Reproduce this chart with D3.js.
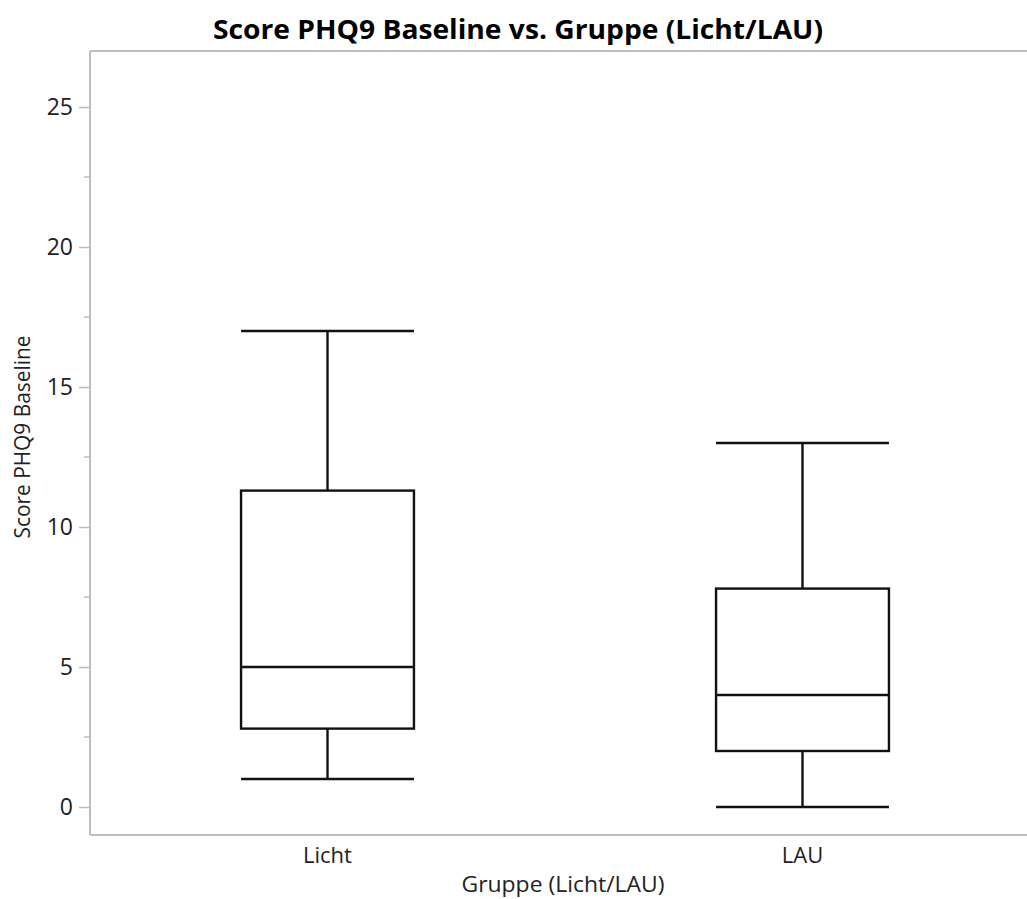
<!DOCTYPE html>
<html>
<head>
<meta charset="utf-8">
<script src="https://cdn.jsdelivr.net/npm/d3@7"></script>
<style>
  html, body { margin: 0; padding: 0; background: #fff; overflow: hidden; }
  svg { display: block; }
  text { font-family: "Open Sans", "Noto Sans", sans-serif; }
</style>
</head>
<body>
<svg id="chart" width="1027" height="899"></svg>
<script>
// Groups and five-number summaries of the PHQ9 baseline score
const groups = ["Licht", "LAU"];
const whiskerLow = [1, 0];
const quartile1 = [2.8, 2];
const medians = [5, 4];
const quartile3 = [11.3, 7.8];
const whiskerHigh = [17, 13];
const yTicks = [0, 5, 10, 15, 20, 25];
const yMinorTicks = [2.5, 7.5, 12.5, 17.5, 22.5];

const titleText = "Score PHQ9 Baseline vs. Gruppe (Licht/LAU)";
const xTitle = "Gruppe (Licht/LAU)";
const yTitle = "Score PHQ9 Baseline";

const svg = d3.select("#chart");
const m = { left: 90, top: 51, right: 1040, bottom: 835 };

const x = d3.scaleBand().domain(groups).range([m.left, m.right]).paddingInner(0).paddingOuter(0);
const y = d3.scaleLinear().domain([-1, 27]).range([m.bottom, m.top]);

const axisColor = "#bdbdbd";
const textColor = "#222";

// frame: top and bottom edges run across, left edge is the y axis
svg.append("line").attr("x1", m.left).attr("x2", 1027).attr("y1", m.top).attr("y2", m.top)
  .attr("stroke", axisColor).attr("stroke-width", 2);
svg.append("line").attr("x1", m.left).attr("x2", 1027).attr("y1", m.bottom).attr("y2", m.bottom)
  .attr("stroke", axisColor).attr("stroke-width", 2);

// y axis with major and minor ticks
const yAxis = svg.append("g").attr("transform", `translate(${m.left},0)`)
  .call(d3.axisLeft(y).tickValues(yTicks).tickSize(11).tickPadding(6).tickSizeOuter(0));
yAxis.select(".domain").attr("stroke", axisColor).attr("stroke-width", 2)
  .attr("d", `M0,${m.top}V${m.bottom}`);
yAxis.selectAll(".tick line").attr("stroke", axisColor).attr("stroke-width", 1.5);
yAxis.selectAll(".tick text").attr("fill", textColor)
  .style("font-family", "'Open Sans', sans-serif").style("font-size", "23px");

svg.append("g").selectAll("line").data(yMinorTicks).join("line")
  .attr("x1", m.left - 6).attr("x2", m.left)
  .attr("y1", d => y(d)).attr("y2", d => y(d))
  .attr("stroke", axisColor).attr("stroke-width", 1.5);

// x category labels
svg.append("g").selectAll("text").data(groups).join("text")
  .attr("x", d => x(d) + x.bandwidth() / 2)
  .attr("y", 863)
  .attr("text-anchor", "middle")
  .attr("fill", textColor)
  .style("font-size", "22px")
  .text(d => d);

// boxes
const boxW = x.bandwidth() * 0.364;
const g = svg.append("g").attr("stroke", "#111").attr("stroke-width", 2.4).attr("fill", "none");
groups.forEach((grp, i) => {
  const cx = x(grp) + x.bandwidth() / 2;
  const x0 = cx - boxW / 2, x1 = cx + boxW / 2;
  // whiskers
  g.append("line").attr("x1", cx).attr("x2", cx).attr("y1", y(whiskerHigh[i])).attr("y2", y(quartile3[i]));
  g.append("line").attr("x1", cx).attr("x2", cx).attr("y1", y(quartile1[i])).attr("y2", y(whiskerLow[i]));
  g.append("line").attr("x1", x0).attr("x2", x1).attr("y1", y(whiskerHigh[i])).attr("y2", y(whiskerHigh[i]));
  g.append("line").attr("x1", x0).attr("x2", x1).attr("y1", y(whiskerLow[i])).attr("y2", y(whiskerLow[i]));
  // box and median
  g.append("rect").attr("x", x0).attr("width", boxW)
    .attr("y", y(quartile3[i])).attr("height", y(quartile1[i]) - y(quartile3[i]));
  g.append("line").attr("x1", x0).attr("x2", x1).attr("y1", y(medians[i])).attr("y2", y(medians[i]));
});

// titles
svg.append("text").attr("x", 518).attr("y", 39).attr("text-anchor", "middle")
  .attr("fill", "#000").style("font-weight", "bold").style("font-size", "26px")
  .attr("textLength", 610).attr("lengthAdjust", "spacingAndGlyphs")
  .text(titleText);

svg.append("text").attr("x", 563).attr("y", 892).attr("text-anchor", "middle")
  .attr("fill", textColor).style("font-size", "22px")
  .attr("textLength", 203).attr("lengthAdjust", "spacingAndGlyphs").text(xTitle);

svg.append("text").attr("transform", "translate(30,437) rotate(-90)").attr("text-anchor", "middle")
  .attr("fill", textColor).style("font-size", "21px")
  .attr("textLength", 203).attr("lengthAdjust", "spacingAndGlyphs").text(yTitle);
</script>
</body>
</html>
